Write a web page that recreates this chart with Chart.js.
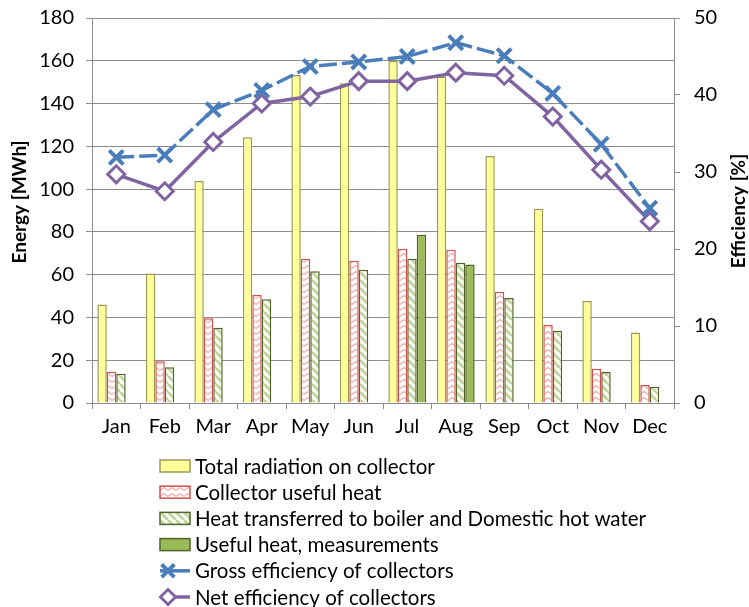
<!DOCTYPE html>
<html>
<head>
<meta charset="utf-8">
<script src="https://cdn.jsdelivr.net/npm/chart.js@4.4.1/dist/chart.umd.min.js"></script>
<style>
  html, body { margin: 0; padding: 0; background: #fff; }
</style>
</head>
<body>
<canvas id="myChart" width="749" height="607"></canvas>
<script>
/* globals Chart:false */

const months = ['Jan', 'Feb', 'Mar', 'Apr', 'May', 'Jun', 'Jul', 'Aug', 'Sep', 'Oct', 'Nov', 'Dec']
const totalRadiation = [46.1, 60.6, 103.8, 124.2, 153.3, 149.5, 160.0, 152.6, 115.5, 90.8, 47.7, 33.0]
const collectorHeat = [14.6, 19.5, 39.6, 50.6, 67.5, 66.5, 72.1, 71.7, 52.0, 36.6, 16.0, 8.4]
const transferredHeat = [13.7, 16.7, 35.2, 48.5, 61.6, 62.3, 67.5, 65.6, 49.1, 33.8, 14.5, 7.6]
const measuredHeat = [null, null, null, null, null, null, 78.7, 64.7, null, null, null, null]
const grossEfficiency = [31.9, 32.2, 38.1, 40.6, 43.7, 44.3, 45.0, 46.8, 45.1, 40.2, 33.6, 25.3]
const netEfficiency = [29.7, 27.5, 33.9, 38.9, 39.8, 41.8, 41.8, 42.9, 42.5, 37.2, 30.3, 23.6]
const energyTicks = [0, 20, 40, 60, 80, 100, 120, 140, 160, 180]
const efficiencyTicks = [0, 10, 20, 30, 40, 50]

const FONT = 'Lato, "Open Sans", sans-serif'
const GRID = '#8c8c8c'

// hatch fills
function zigzagPattern () {
  const c = document.createElement('canvas')
  c.width = 8; c.height = 6
  const g = c.getContext('2d')
  g.fillStyle = '#fff'
  g.fillRect(0, 0, 8, 6)
  g.strokeStyle = '#f0aaa8'
  g.lineWidth = 1.3
  g.beginPath()
  g.moveTo(0, 4.5); g.lineTo(4, 1.5); g.lineTo(8, 4.5)
  g.stroke()
  return g.createPattern(c, 'repeat')
}

function stripePattern () {
  const c = document.createElement('canvas')
  c.width = 8; c.height = 8
  const g = c.getContext('2d')
  g.fillStyle = '#fff'
  g.fillRect(0, 0, 8, 8)
  g.strokeStyle = '#c3d69b'
  g.lineWidth = 3
  g.beginPath()
  for (const o of [-8, 0, 8]) {
    g.moveTo(o, 0); g.lineTo(o + 8, 8)
  }
  g.stroke()
  return g.createPattern(c, 'repeat')
}

// legend + axis titles drawn by hand (one entry per row, left aligned)
const customLegend = {
  id: 'customLegend',
  afterDraw (chart) {
    const ctx = chart.ctx
    const area = chart.chartArea
    ctx.save()

    // axis titles
    ctx.fillStyle = '#000'
    ctx.font = 'bold 19px ' + FONT
    ctx.textAlign = 'center'
    ctx.textBaseline = 'middle'
    ctx.save()
    ctx.translate(20, 202)
    ctx.rotate(-Math.PI / 2)
    ctx.fillText('Energy [MWh]', 0, 0)
    ctx.restore()
    ctx.save()
    ctx.translate(739, 211)
    ctx.rotate(-Math.PI / 2)
    ctx.fillText('Efficiency [%]', 0, 0)
    ctx.restore()

    const x0 = area.left + 68
    let y = area.bottom + 63
    ctx.font = '20.5px ' + FONT
    ctx.textAlign = 'left'
    chart.data.datasets.forEach(ds => {
      if (ds.type === 'line') {
        ctx.strokeStyle = ds.borderColor
        ctx.lineWidth = ds.borderWidth
        ctx.setLineDash([])
        ctx.beginPath()
        ctx.moveTo(x0, y); ctx.lineTo(x0 + 30, y)
        ctx.stroke()
        ctx.fillStyle = ds.pointBackgroundColor
        ctx.strokeStyle = ds.pointBorderColor
        ctx.lineWidth = ds.pointBorderWidth
        Chart.helpers.drawPoint(ctx, {
          pointStyle: ds.pointStyle,
          radius: ds.pointRadius - 1,
          borderWidth: ds.pointBorderWidth
        }, x0 + 8, y)
      } else {
        ctx.fillStyle = ds.backgroundColor
        ctx.strokeStyle = ds.borderColor
        ctx.lineWidth = 1.5
        ctx.fillRect(x0, y - 6, 30, 12)
        ctx.strokeRect(x0, y - 6, 30, 12)
      }
      ctx.fillStyle = '#000'
      ctx.fillText(ds.label, x0 + 35, y + 1)
      y += 26.2
    })
    ctx.restore()
  }
}

// keep tick labels from pushing the plot area around
function noPad (scale) {
  scale.paddingTop = 0
  scale.paddingBottom = 0
  scale.paddingLeft = 0
  scale.paddingRight = 0
}

const ctx = document.getElementById('myChart')
Chart.defaults.font.family = FONT
Chart.defaults.color = '#000'

// eslint-disable-next-line no-unused-vars
const myChart = new Chart(ctx, {
  type: 'bar',
  data: {
    labels: months,
    datasets: [{
      label: 'Total radiation on collector',
      data: totalRadiation,
      backgroundColor: '#ffff99',
      borderColor: '#9c9958',
      borderWidth: 1.5,
      yAxisID: 'y',
      order: 2
    }, {
      label: 'Collector useful heat',
      data: collectorHeat,
      backgroundColor: zigzagPattern(),
      borderColor: '#d0504d',
      borderWidth: 1.5,
      yAxisID: 'y',
      order: 2
    }, {
      label: 'Heat transferred to boiler and Domestic hot water',
      data: transferredHeat,
      backgroundColor: stripePattern(),
      borderColor: '#4f6228',
      borderWidth: 1.5,
      yAxisID: 'y',
      order: 2
    }, {
      label: 'Useful heat, measurements',
      data: measuredHeat,
      backgroundColor: '#9bbb59',
      borderColor: '#4f6228',
      borderWidth: 1.5,
      yAxisID: 'y',
      order: 2
    }, {
      type: 'line',
      label: 'Gross efficiency of collectors',
      data: grossEfficiency,
      borderColor: '#4a7ebb',
      backgroundColor: '#4a7ebb',
      borderWidth: 3.5,
      borderDash: [18, 5],
      pointStyle: 'crossRot',
      pointRadius: 10,
      pointBorderWidth: 4,
      pointBackgroundColor: '#4a7ebb',
      pointBorderColor: '#4a7ebb',
      lineTension: 0,
      yAxisID: 'y1',
      order: 0
    }, {
      type: 'line',
      label: 'Net efficiency of collectors',
      data: netEfficiency,
      borderColor: '#8064a2',
      backgroundColor: '#fff',
      borderWidth: 3.5,
      pointStyle: 'rectRot',
      pointRadius: 8.5,
      pointBorderWidth: 3,
      pointBackgroundColor: '#fff',
      pointBorderColor: '#8064a2',
      lineTension: 0,
      yAxisID: 'y1',
      order: 1
    }]
  },
  options: {
    responsive: false,
    animation: false,
    categoryPercentage: 0.78,
    barPercentage: 1.0,
    layout: {
      padding: { top: 18, bottom: 159, left: 0, right: 0 }
    },
    scales: {
      x: {
        grid: { drawOnChartArea: false, tickLength: 6, color: GRID },
        border: { color: GRID },
        ticks: { font: { size: 20 }, padding: 6 },
        afterFit (scale) { scale.height = 45; noPad(scale) }
      },
      y: {
        position: 'left',
        min: 0,
        max: 180,
        afterBuildTicks (scale) { scale.ticks = energyTicks.map(v => ({ value: v })) },
        grid: { color: GRID, tickLength: 6 },
        border: { color: GRID },
        ticks: { font: { size: 20 }, padding: 12 },
        afterFit (scale) { scale.width = 92; noPad(scale) }
      },
      y1: {
        position: 'right',
        min: 0,
        max: 50,
        afterBuildTicks (scale) { scale.ticks = efficiencyTicks.map(v => ({ value: v })) },
        grid: { drawOnChartArea: false, color: GRID, tickLength: 6 },
        border: { color: GRID },
        ticks: { font: { size: 20 }, padding: 14 },
        afterFit (scale) { scale.width = 75; noPad(scale) }
      }
    },
    plugins: {
      legend: { display: false },
      tooltip: { enabled: false }
    }
  },
  plugins: [customLegend]
})
</script>
</body>
</html>
